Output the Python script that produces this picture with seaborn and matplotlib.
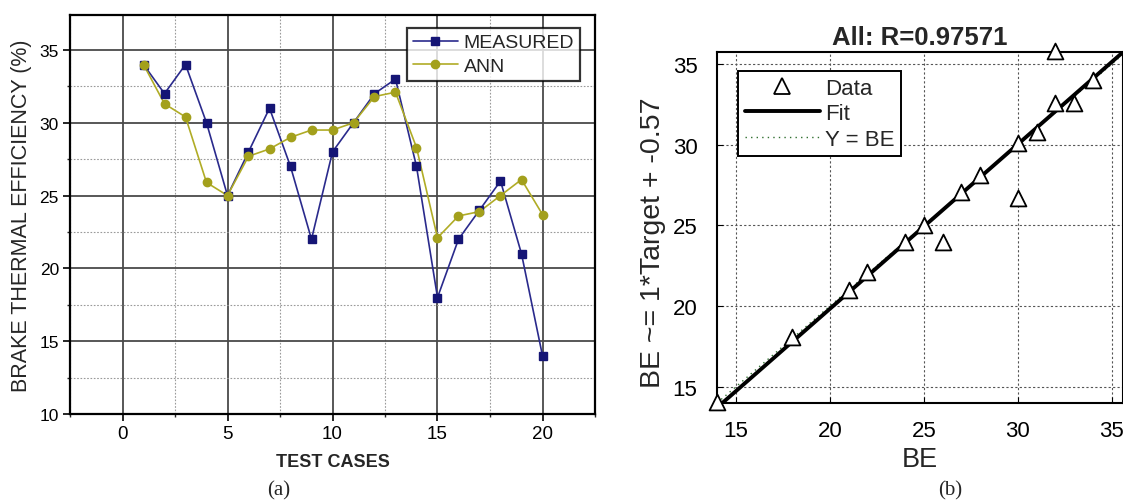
import numpy as np
import pandas as pd
import matplotlib
matplotlib.use("Agg")
import matplotlib.pyplot as plt
from matplotlib.lines import Line2D
from matplotlib.ticker import MultipleLocator
import seaborn as sns

# ---------------- data ----------------
test_cases = list(range(1, 21))
measured = [34, 32, 34, 30, 25, 28, 31, 27, 22, 28, 30, 32, 33, 27, 18, 22, 24, 26, 21, 14]
ann = [34, 31.3, 30.4, 25.9, 25, 27.7, 28.2, 29, 29.5, 29.5, 30, 31.8, 32.1, 28.3, 22.1, 23.6, 23.9, 25, 26.1, 23.7]

be_target = [14, 18, 21, 22, 24, 25, 26, 27, 28, 30, 30, 31, 32, 33, 34, 32]
be_output = [14.05, 18.1, 21, 22.1, 24, 25, 24, 27.1, 28.1, 30.1, 26.7, 30.8, 32.6, 32.6, 34, 35.8]
fit_slope = 1.02
fit_intercept = -0.57
r_value = "0.97571"

sns.set_style("white")
plt.rcParams['font.family'] = ['Liberation Sans', 'DejaVu Sans']

fig = plt.figure(figsize=(11.23, 5.02), dpi=100)

# ---------------- panel (a) ----------------
ax1 = fig.add_axes([70/1123, 1-415/502, 525/1123, 399/502])
df = pd.DataFrame({
    "case": test_cases * 2,
    "value": measured + ann,
    "series": ["MEASURED"] * 20 + ["ANN"] * 20,
})
palette = {"MEASURED": "#2a2a8c", "ANN": "#b0ac26"}
mcol = {"MEASURED": "#151575", "ANN": "#a3a01c"}
sns.lineplot(data=df, x="case", y="value", hue="series", palette=palette,
             ax=ax1, lw=1.2, legend=False, sort=False)
for s, mk in [("MEASURED", "s"), ("ANN", "o")]:
    sub = df[df.series == s]
    ax1.plot(sub.case, sub.value, ls="none", marker=mk, ms=6,
             mfc=mcol[s], mec=mcol[s], zorder=3)

ax1.set_xlim(-2.5, 22.5)
ax1.set_ylim(10, 37.4)
ax1.xaxis.set_major_locator(MultipleLocator(5))
ax1.xaxis.set_minor_locator(MultipleLocator(2.5))
ax1.yaxis.set_major_locator(MultipleLocator(5))
ax1.yaxis.set_minor_locator(MultipleLocator(2.5))
ax1.grid(which="major", color="#4a4a4a", lw=1.3, ls="-")
ax1.grid(which="minor", color="#9a9a9a", lw=0.8, ls=(0, (1.5, 1.5)))
ax1.set_axisbelow(True)
ax1.tick_params(which="major", direction="out", length=5, width=1.2, labelsize=12.5,
                bottom=True, left=True, colors="black", pad=3)
ax1.tick_params(axis="x", which="major", labelsize=13.5)
ax1.tick_params(which="minor", direction="out", length=2.5, width=1, bottom=True, left=True)
for sp in ax1.spines.values():
    sp.set_color("black")
    sp.set_linewidth(1.6)
ax1.set_xlabel("TEST CASES", fontsize=13, fontweight="bold", labelpad=8)
ax1.set_ylabel("BRAKE THERMAL EFFICIENCY (%)", fontsize=15.5, labelpad=5)

h1 = [Line2D([], [], color=palette["MEASURED"], lw=1.2, marker="s", ms=6,
             mfc=mcol["MEASURED"], mec=mcol["MEASURED"]),
      Line2D([], [], color=palette["ANN"], lw=1.2, marker="o", ms=6,
             mfc=mcol["ANN"], mec=mcol["ANN"])]
leg1 = ax1.legend(h1, ["MEASURED", "ANN"], loc="upper right",
                  bbox_to_anchor=(1 - 15/525, 1 - 13/399), fontsize=14, frameon=True,
                  fancybox=False, handlelength=2.3, handletextpad=0.3,
                  borderpad=0.3, labelspacing=0.3, borderaxespad=0)
leg1.get_frame().set_edgecolor("black")
leg1.get_frame().set_linewidth(1.6)

# ---------------- panel (b) ----------------
ax2 = fig.add_axes([717/1123, 1-404/502, 406/1123, 351/502])
xlo, xhi = 14, 35.6
ylo, yhi = 14, 35.75
xs = np.array([xlo, xhi + 1])
ax2.plot(xs, xs, color="#2f6f2f", ls=(0, (1, 3)), lw=1.0, zorder=2)
ax2.plot(xs, fit_slope * xs + fit_intercept, color="black", lw=2.8, zorder=3)
sns.scatterplot(x=be_target, y=be_output, ax=ax2, marker="^", s=130,
                facecolor="white", edgecolor="black", linewidth=1.3,
                zorder=4, clip_on=False, legend=False)
ax2.set_xlim(xlo, xhi)
ax2.set_ylim(ylo, yhi)
ax2.set_xticks([15, 20, 25, 30, 35])
ax2.set_yticks([15, 20, 25, 30, 35])
ax2.grid(True, color="#555555", lw=0.8, ls=(0, (2, 2)))
ax2.set_axisbelow(True)
ax2.tick_params(direction="in", length=4, labelsize=16, bottom=True, left=True,
                pad=12, colors="black")
ax2.tick_params(axis="y", pad=14)
for sp in ax2.spines.values():
    sp.set_color("black")
    sp.set_linewidth(1.5)
ax2.set_title("All: R=" + r_value, fontsize=18.5, fontweight="bold", pad=6)
ax2.set_xlabel("BE", fontsize=19.5, labelpad=4)
ax2.set_ylabel("BE ~= 1*Target + -0.57", fontsize=20.5, labelpad=4)
ax2.yaxis.set_label_coords(-51/406, 0.46)

h2 = [Line2D([], [], ls="none", marker="^", ms=11, mfc="white", mec="black", mew=1.3),
      Line2D([], [], color="black", lw=2.8),
      Line2D([], [], color="#2f6f2f", ls=(0, (1, 3)), lw=1.0)]
leg2 = ax2.legend(h2, ["Data", "Fit", "Y = BE"], loc="upper left",
                  bbox_to_anchor=(21/406, 1 - 19/351), fontsize=16, frameon=True,
                  fancybox=False, handlelength=3.4, handletextpad=0.2,
                  borderpad=0.3, labelspacing=0.2, borderaxespad=0)
leg2.get_frame().set_edgecolor("black")
leg2.get_frame().set_linewidth(1.4)
leg2.get_frame().set_alpha(1)

# ---------------- captions ----------------
fig.text(279/1123, 1-491/502, "(a)", ha="center", va="center", fontsize=15,
         family=["Liberation Serif", "DejaVu Serif"])
fig.text(950/1123, 1-491/502, "(b)", ha="center", va="center", fontsize=15,
         family=["Liberation Serif", "DejaVu Serif"])

fig.savefig("out.png", dpi=100)
